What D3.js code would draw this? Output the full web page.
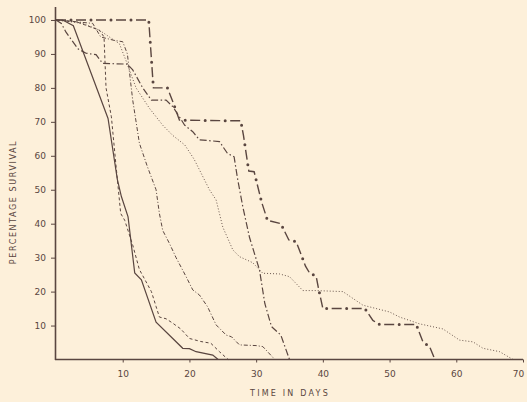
<!DOCTYPE html>
<html>
<head>
<meta charset="utf-8">
<script src="https://cdn.jsdelivr.net/npm/d3@7"></script>
<style>
  html, body { margin: 0; padding: 0; background: #fdf0da; }
  svg { display: block; }
  .axis text { font-family: 'DejaVu Sans', sans-serif; font-size: 9px; fill: #5a4640; }
  .axis path, .axis line { stroke: #5a4640; }
  .axis-title { font-family: 'DejaVu Sans', sans-serif; font-size: 8px; fill: #5a4640; }
  .curve { fill: none; stroke: #5a4640; }
</style>
</head>
<body>
<div id="chart"></div>
<script>
const width = 527
const height = 402

const xTicks = [10, 20, 30, 40, 50, 60, 70]
const yTicks = [10, 20, 30, 40, 50, 60, 70, 80, 90, 100]

// [day, percentage surviving]
const solidSeries = [[0, 100], [1, 100], [2.6, 98.3], [7.8, 71], [9.2, 53], [9.8, 48], [10.8, 42], [11.8, 25.5], [12.8, 23.5], [15, 11], [19, 3.3], [20, 3.2], [21, 2.3], [23.5, 1.3], [24.3, 0]]
const dashSeries = [[0, 100], [3, 99.5], [6.5, 97], [7.2, 95], [7.5, 80], [8.3, 71.5], [9, 57], [9.7, 43], [10.3, 41], [11.5, 33.7], [12.5, 26.5], [14.3, 20], [15, 15.6], [15.5, 12.5], [16.5, 12], [17.5, 10.7], [18.7, 9], [20, 6.2], [21.7, 5.3], [23.2, 4.8], [24.5, 2.3], [25.8, 0]]
const dashDotSeries = [[0, 100], [5.5, 99], [6.7, 95], [8.7, 94], [10, 93.6], [10.7, 90], [11.2, 81.4], [11.5, 76.4], [12.5, 63.7], [13.7, 56.8], [15, 50], [15.5, 43], [16, 38], [17, 34.2], [18, 30], [19.5, 24.4], [20.5, 20.5], [21.5, 19], [22.7, 15.6], [24, 10.2], [25.5, 7.2], [26.3, 6.7], [27.5, 4.3], [30, 4.1], [31, 3.8], [32.8, 0]]
const longDashSeries = [[0, 100], [0.8, 99], [1.5, 96.4], [3.3, 91.5], [4.5, 90.2], [6, 89.8], [7, 87.2], [10.7, 87], [11.5, 85.3], [13, 80], [14.3, 76.4], [16.5, 76.4], [17.5, 74.5], [19.3, 69], [20.5, 67.1], [21.5, 64.7], [24.5, 64.2], [25.7, 60.7], [26.7, 59.7], [27.2, 53.4], [28, 45], [29, 36], [30.5, 26.4], [31.3, 16.5], [32.3, 9.7], [33.7, 7.2], [35, 0]]
const heavySeries = [[0, 100], [13.9, 100], [14.6, 80], [16.7, 80], [17.5, 76], [18.5, 70.5], [27.7, 70.3], [28.1, 66], [28.9, 55.5], [29.7, 55.3], [30.8, 46.5], [31.7, 41], [33.7, 40], [34.9, 35.2], [36, 34.7], [37.4, 27.5], [38, 25.5], [39, 24.5], [39.3, 21.4], [40, 15], [46.3, 15], [47.5, 11.5], [48.5, 10.3], [54, 10.3], [55, 5.2], [56, 3.8], [56.8, 0]]
const dottedSeries = [[0, 100], [4, 99], [6.5, 97], [8, 95], [9.5, 93], [10.5, 88], [12, 80], [14, 74], [16, 69], [17.5, 66], [19.3, 63.2], [20.7, 59], [23, 50], [24, 47], [25, 39], [26.5, 32.3], [27.5, 30.3], [29.5, 28.5], [31, 25.4], [33.5, 25.2], [35, 24.4], [37, 20.3], [39, 20.3], [43, 20], [46, 16], [50, 14], [51.5, 12.5], [54.5, 10.5], [58, 9], [60.5, 5.7], [62.5, 5.2], [64, 3.3], [66.5, 2.3], [68.5, 0]]

const svg = d3.select('#chart').append('svg')
  .attr('width', width)
  .attr('height', height)

const x = d3.scaleLinear().domain([0, 70]).range([56, 523])
const y = d3.scaleLinear().domain([0, 104]).range([359.5, 6.4])

// AXES
const xAxis = d3.axisBottom(x)
  .tickValues(xTicks)
  .tickSizeInner(3)
  .tickSizeOuter(0)

const xg = svg.append('g')
  .attr('class', 'axis')
  .attr('transform', `translate(0 ${y(0)})`)
  .call(xAxis)
xg.select('.domain').attr('d', `M${x(0) - 1},0H${x(70)}`).attr('stroke-width', 1.6)
xg.selectAll('text').attr('dy', null).attr('y', 17)
// last label sits on the right edge; nudge it in so it is not clipped
xg.selectAll('text').filter(d => d === 70).attr('x', -5)

const yAxis = d3.axisLeft(y)
  .tickValues(yTicks)
  .tickSizeInner(4)
  .tickSizeOuter(0)
  .tickPadding(5)

const yg = svg.append('g')
  .attr('class', 'axis')
  .attr('transform', `translate(${x(0) - 1} 0)`)
  .call(yAxis)
yg.select('.domain').attr('stroke-width', 1.6)

svg.append('text')
  .attr('class', 'axis-title')
  .attr('x', 290)
  .attr('y', 396)
  .attr('text-anchor', 'middle')
  .attr('letter-spacing', 2.2)
  .text('TIME IN DAYS')

svg.append('text')
  .attr('class', 'axis-title')
  .attr('transform', 'translate(16 202) rotate(-90)')
  .attr('text-anchor', 'middle')
  .attr('letter-spacing', 1.6)
  .text('PERCENTAGE SURVIVAL')

// CURVES
const line = d3.line()
  .x(d => x(d[0]))
  .y(d => y(d[1]))

const curves = [
  { data: dottedSeries, dash: '1,2', w: 0.9, color: '#8a7468' },
  { data: dashSeries, dash: '3,2.5', w: 1, color: '#5a4640' },
  { data: dashDotSeries, dash: '4,2,1,2', w: 1, color: '#5a4640' },
  { data: longDashSeries, dash: '7,2.5,1.5,2.5', w: 1.2, color: '#5a4640' },
  { data: solidSeries, dash: null, w: 1.2, color: '#5a4640' },
  { data: heavySeries, dash: '10,10', w: 1.4, color: '#5a4640' }
]

svg.append('g')
  .attr('class', 'curves')
  .selectAll('path')
  .data(curves)
  .enter().append('path')
  .attr('class', 'curve')
  .attr('d', d => line(d.data))
  .attr('stroke', d => d.color)
  .attr('stroke-width', d => d.w)
  .attr('stroke-dasharray', d => d.dash)

// dots of the heavy dash-dot curve, sitting in the gaps
svg.append('path')
  .attr('class', 'curve')
  .datum(heavySeries)
  .attr('d', line)
  .attr('stroke-width', 3)
  .attr('stroke-linecap', 'round')
  .attr('stroke-dasharray', '0,20')
  .attr('stroke-dashoffset', -15)
</script>
</body>
</html>
